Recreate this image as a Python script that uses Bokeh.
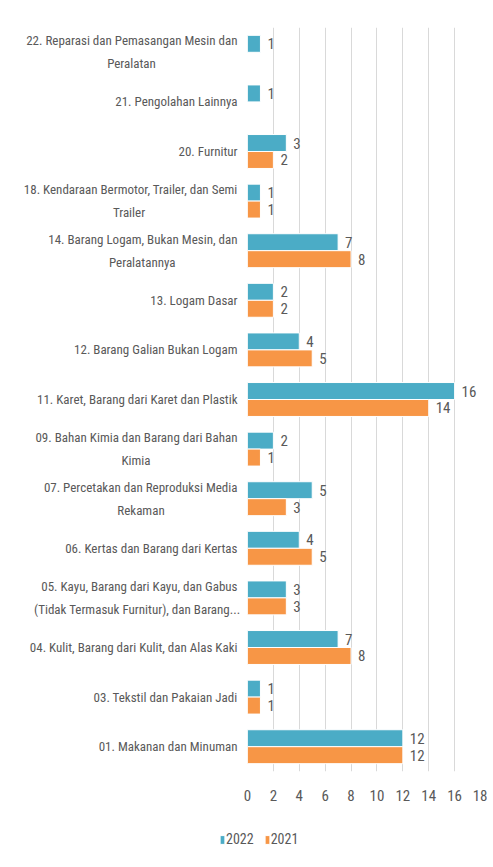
from bokeh.plotting import figure
from bokeh.models import ColumnDataSource, FactorRange, Legend, LegendItem, LabelSet
from bokeh.layouts import row, column
from bokeh.core.properties import value
from bokeh.transform import dodge
from bokeh.embed import file_html
from bokeh.resources import INLINE

categories = [
    "22. Reparasi dan Pemasangan Mesin dan\nPeralatan",
    "21. Pengolahan Lainnya",
    "20. Furnitur",
    "18. Kendaraan Bermotor, Trailer, dan Semi\nTrailer",
    "14. Barang Logam, Bukan Mesin, dan\nPeralatannya",
    "13. Logam Dasar",
    "12. Barang Galian Bukan Logam",
    "11. Karet, Barang dari Karet dan Plastik",
    "09. Bahan Kimia dan Barang dari Bahan\nKimia",
    "07. Percetakan dan Reproduksi Media\nRekaman",
    "06. Kertas dan Barang dari Kertas",
    "05. Kayu, Barang dari Kayu, dan Gabus\n(Tidak Termasuk Furnitur), dan Barang...",
    "04. Kulit, Barang dari Kulit, dan Alas Kaki",
    "03. Tekstil dan Pakaian Jadi",
    "01. Makanan dan Minuman",
]
v2022 = [1, 1, 3, 1, 7, 2, 4, 16, 2, 5, 4, 3, 7, 1, 12]
v2021 = [None, None, 2, 1, 8, 2, 5, 14, 1, 3, 5, 3, 8, 1, 12]
x_ticks = [0, 2, 4, 6, 8, 10, 12, 14, 16, 18]
series_names = ["2022", "2021"]

FONT = "Roboto Condensed"
GRAY = "#595959"
C2022 = "#4BACC6"
C2021 = "#F79646"
CAT_FS = 13
LINE_PITCH = 23
STANDOFF = 5

# approximate text width helper (Arial-like advance widths scaled to Roboto Condensed)
_W = {" ": 278, ",": 278, ".": 278, "(": 333, ")": 333, "-": 333}
_W.update({d: 556 for d in "0123456789"})
_W.update(dict(zip("ABCDEFGHIJKLMNOPQRSTUVWXYZ",
                   [667, 667, 722, 722, 667, 611, 778, 722, 278, 500, 667, 556, 833, 722, 778, 667, 778, 722, 667, 611, 722, 667, 944, 667, 667, 611])))
_W.update(dict(zip("abcdefghijklmnopqrstuvwxyz",
                   [556, 556, 500, 556, 556, 278, 556, 556, 222, 222, 500, 222, 833, 556, 556, 556, 556, 333, 500, 278, 556, 500, 722, 500, 500, 500])))

def text_width(s, fs):
    return sum(_W.get(ch, 556) for ch in s) / 1000.0 * fs * 0.873

src22 = ColumnDataSource(dict(cat=categories, v=v2022, t=[str(v) for v in v2022]))
k21 = [k for k, v in zip(categories, v2021) if v is not None]
vv21 = [v for v in v2021 if v is not None]
src21 = ColumnDataSource(dict(cat=k21, v=vv21, t=[str(v) for v in vv21]))

yr = FactorRange(*reversed(categories))
TOP, BOTTOM = 27, 37
H = 808

# ---- main bar figure
p = figure(width=245, height=H, output_backend="svg", toolbar_location=None,
           y_range=yr, x_range=(0, 18),
           min_border_left=5, min_border_right=7, min_border_top=TOP, min_border_bottom=BOTTOM)
p.outline_line_color = None

r22 = p.hbar(y=dodge("cat", 0.171, range=yr), right="v", left=0, height=0.342,
             source=src22, fill_color=C2022, line_color="white", line_width=1)
r21 = p.hbar(y=dodge("cat", -0.171, range=yr), right="v", left=0, height=0.342,
             source=src21, fill_color=C2021, line_color="white", line_width=1)

for src, off in ((src22, 0.171), (src21, -0.171)):
    p.add_layout(LabelSet(x="v", y=dodge("cat", off, range=yr), text="t", source=src,
                          x_offset=7, text_align="left", text_baseline="middle",
                          text_font=value(FONT), text_font_size="15px", text_color=GRAY))

p.xgrid.grid_line_color = "#d9d9d9"
p.ygrid.grid_line_color = None
p.xaxis.ticker = x_ticks
p.xaxis.axis_line_color = None
p.xaxis.major_tick_line_color = None
p.xaxis.major_tick_out = 0
p.xaxis.major_tick_in = 0
p.xaxis.minor_tick_line_color = None
p.xaxis.major_label_text_font = FONT
p.xaxis.major_label_text_font_size = "15px"
p.xaxis.major_label_text_color = GRAY
p.xaxis.major_label_standoff = 18
p.yaxis.visible = False

# ---- category label figure (shares the category range)
lab = figure(width=242, height=H, output_backend="svg", toolbar_location=None,
             y_range=yr, x_range=(0, 1), x_axis_type=None, y_axis_type=None,
             min_border_left=0, min_border_right=0, min_border_top=TOP, min_border_bottom=BOTTOM)
lab.outline_line_color = None
lab.xgrid.visible = False
lab.ygrid.visible = False

single = dict(cat=[], t=[], x=[])
first = dict(cat=[], t=[], x=[])
second = dict(cat=[], t=[], x=[], xo=[])
for c in categories:
    parts = c.split("\n")
    if len(parts) == 1:
        single["cat"].append(c); single["t"].append(c); single["x"].append(1)
    else:
        first["cat"].append(c); first["t"].append(parts[0]); first["x"].append(1)
        second["cat"].append(c); second["t"].append(parts[1]); second["x"].append(1)
        second["xo"].append(-STANDOFF - text_width(parts[0], CAT_FS) / 2)

common = dict(text_font=value(FONT), text_font_size=f"{CAT_FS}px", text_color=GRAY,
              text_baseline="middle")
lab.text(x="x", y="cat", text="t", source=ColumnDataSource(single),
         x_offset=-STANDOFF, text_align="right", **common)
lab.text(x="x", y="cat", text="t", source=ColumnDataSource(first),
         x_offset=-STANDOFF, y_offset=-LINE_PITCH / 2, text_align="right", **common)
lab.text(x="x", y="cat", text="t", source=ColumnDataSource(second),
         x_offset="xo", y_offset=LINE_PITCH / 2, text_align="center", **common)

# ---- legend strip (legend glyphs come from renderers whose single bar lies outside the view)
lf = figure(width=487, height=52, output_backend="svg", toolbar_location=None,
            x_range=(0, 1), y_range=(0, 1), x_axis_type=None, y_axis_type=None,
            min_border=0, background_fill_color="white", border_fill_color="white")
lf.outline_line_color = None
lf.xgrid.visible = False
lf.ygrid.visible = False
g22 = lf.hbar(y=[-5], right=[1], height=0.5, fill_color=C2022, line_color="white", line_width=1)
g21 = lf.hbar(y=[-5], right=[1], height=0.5, fill_color=C2021, line_color="white", line_width=1)
legend = Legend(items=[LegendItem(label=series_names[0], renderers=[g22]),
                       LegendItem(label=series_names[1], renderers=[g21])],
                orientation="horizontal", location=(219, 13),
                label_text_font=FONT, label_text_font_size="14px", label_text_color=GRAY,
                glyph_width=6, glyph_height=11, spacing=10, label_standoff=1,
                border_line_color=None, background_fill_alpha=0, margin=0, padding=0)
lf.add_layout(legend, "center")

layout = column(row(lab, p, spacing=0), lf, spacing=0)
open("out.html", "w").write(file_html(layout, INLINE))
